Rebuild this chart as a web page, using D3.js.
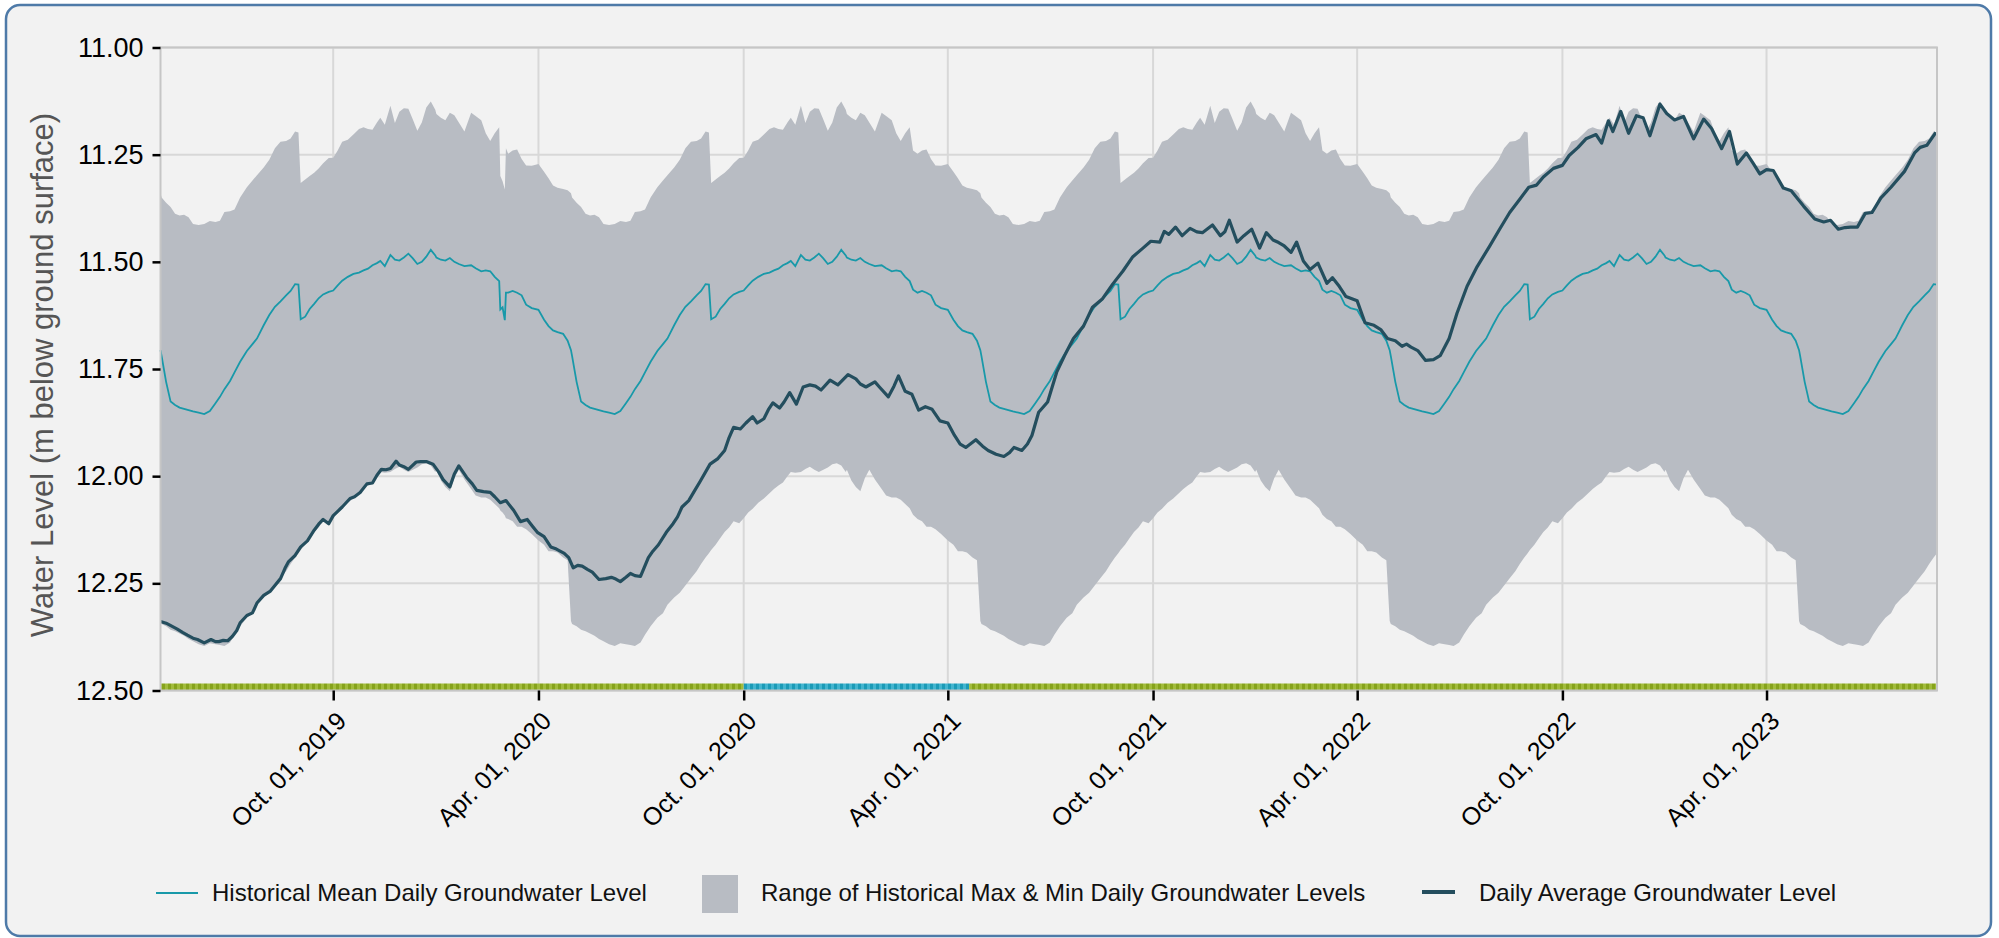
<!DOCTYPE html>
<html>
<head>
<meta charset="utf-8">
<script src="https://cdn.jsdelivr.net/npm/d3@7"></script>
<style>
body { margin: 0; background: #ffffff; }
text { font-family: "Liberation Sans", Arial, sans-serif; }
</style>
</head>
<body>
<script>
// historical daily statistics, keyed by month-day (same every year)
var histDays = ["01-01","01-05","01-09","01-13","01-17","01-21","01-26","02-01","02-05","02-10","02-14","02-18","02-22","02-26",
  "03-01","03-05","03-09","03-13","03-17","03-21","03-26","04-01","04-06","04-10","04-14","04-18","04-23","04-27","04-30",
  "05-01","05-05","05-09","05-13","05-17","05-21","05-25","05-29","06-03","06-08","06-13","06-18","06-22","06-26",
  "07-01","07-05","07-10","07-16","07-21","07-25","07-31","08-05","08-10","08-15","08-20","08-24","08-28","08-31",
  "09-02","09-06","09-10","09-14","09-18","09-22","09-27","10-01","10-05","10-09","10-14","10-19","10-24","10-28",
  "11-01","11-05","11-09","11-12","11-16","11-21","11-25","11-29","12-03","12-07","12-11","12-15","12-19","12-23","12-27","12-31"];
var histMax = [11.155,11.164,11.170,11.152,11.158,11.175,11.196,11.152,11.160,11.170,11.200,11.218,11.200,11.186,
  11.240,11.248,11.240,11.238,11.260,11.275,11.276,11.272,11.290,11.305,11.322,11.327,11.330,11.333,11.340,
  11.350,11.362,11.372,11.388,11.392,11.390,11.396,11.412,11.414,11.412,11.405,11.407,11.404,11.384,
  11.382,11.378,11.350,11.326,11.310,11.298,11.280,11.262,11.235,11.220,11.218,11.212,11.196,11.198,
  11.316,11.308,11.300,11.292,11.282,11.270,11.258,11.257,11.240,11.220,11.215,11.203,11.190,11.186,
  11.190,11.192,11.175,11.164,11.180,11.136,11.176,11.150,11.142,11.143,11.168,11.194,11.175,11.140,11.126,11.145];
var histMean = [11.490,11.495,11.497,11.491,11.500,11.505,11.510,11.508,11.515,11.522,11.520,11.522,11.535,11.545,
  11.565,11.572,11.568,11.572,11.578,11.600,11.608,11.612,11.635,11.650,11.660,11.664,11.668,11.684,11.706,
  11.720,11.780,11.826,11.834,11.840,11.843,11.846,11.849,11.852,11.855,11.848,11.830,11.815,11.797,
  11.778,11.758,11.733,11.708,11.692,11.679,11.648,11.624,11.605,11.592,11.578,11.568,11.552,11.553,
  11.634,11.628,11.610,11.598,11.585,11.576,11.570,11.567,11.555,11.544,11.535,11.528,11.525,11.520,
  11.516,11.508,11.503,11.498,11.510,11.484,11.495,11.497,11.490,11.481,11.492,11.505,11.500,11.488,11.472,11.485];
var histMin = [11.985,12.010,12.025,12.035,12.005,11.985,12.008,12.030,12.045,12.050,12.050,12.055,12.065,12.075,
  12.090,12.100,12.105,12.118,12.118,12.124,12.135,12.150,12.160,12.175,12.175,12.178,12.190,12.196,12.338,
  12.345,12.350,12.358,12.362,12.367,12.372,12.380,12.385,12.392,12.396,12.390,12.392,12.394,12.396,
  12.388,12.370,12.350,12.330,12.320,12.300,12.283,12.272,12.255,12.238,12.222,12.205,12.190,12.180,
  12.172,12.160,12.145,12.130,12.120,12.105,12.110,12.098,12.085,12.076,12.062,12.052,12.040,12.030,
  12.022,12.015,12.000,11.990,11.992,11.990,11.983,11.978,11.985,11.990,11.985,11.980,11.972,11.970,11.975,11.990];

// leap-year days of 2020 (replace the usual values around Feb 29)
var leapDates = ["2020-02-27","2020-02-29","2020-03-02","2020-03-03"];
var leapMax = [11.300,11.312,11.331,11.235];
var leapMean = [11.611,11.606,11.636,11.572];
var leapMin = [12.080,12.085,12.092,12.098];

// daily average groundwater level
var dailyDates = ["2019-04-30","2019-05-05","2019-05-10","2019-05-15","2019-05-20","2019-05-24","2019-05-29","2019-06-02","2019-06-08","2019-06-14",
  "2019-06-18","2019-06-21","2019-06-25","2019-06-29","2019-07-03","2019-07-07","2019-07-10","2019-07-16","2019-07-21","2019-07-25",
  "2019-07-31","2019-08-06","2019-08-10","2019-08-15","2019-08-19","2019-08-22","2019-08-28","2019-09-02","2019-09-08","2019-09-14",
  "2019-09-18","2019-09-22","2019-09-27","2019-10-01","2019-10-05","2019-10-09","2019-10-16","2019-10-20","2019-10-25","2019-10-31",
  "2019-11-05","2019-11-09","2019-11-13","2019-11-17","2019-11-21","2019-11-26","2019-11-29","2019-12-03","2019-12-07","2019-12-14",
  "2019-12-18","2019-12-23","2019-12-29","2020-01-03","2020-01-07","2020-01-13","2020-01-17","2020-01-21","2020-01-28","2020-02-02",
  "2020-02-06","2020-02-12","2020-02-18","2020-02-22","2020-02-27","2020-03-03","2020-03-10","2020-03-16","2020-03-22","2020-03-27",
  "2020-03-31","2020-04-06","2020-04-12","2020-04-17","2020-04-24","2020-04-28","2020-05-02","2020-05-06","2020-05-10","2020-05-15",
  "2020-05-19","2020-05-25","2020-05-31","2020-06-05","2020-06-09","2020-06-13","2020-06-18","2020-06-22","2020-06-26","2020-07-01",
  "2020-07-04","2020-07-08","2020-07-12","2020-07-17","2020-07-24","2020-07-30","2020-08-03","2020-08-07","2020-08-13","2020-08-18",
  "2020-08-23","2020-09-01","2020-09-08","2020-09-14","2020-09-18","2020-09-22","2020-09-28","2020-10-03","2020-10-09","2020-10-13",
  "2020-10-19","2020-10-23","2020-10-27","2020-11-02","2020-11-06","2020-11-11","2020-11-17","2020-11-23","2020-11-29","2020-12-04",
  "2020-12-09","2020-12-17","2020-12-24","2021-01-02","2021-01-09","2021-01-13","2021-01-18","2021-01-26","2021-01-30","2021-02-07",
  "2021-02-12","2021-02-16","2021-02-22","2021-02-28","2021-03-06","2021-03-12","2021-03-18","2021-03-25","2021-04-01","2021-04-07",
  "2021-04-12","2021-04-17","2021-04-26","2021-05-02","2021-05-07","2021-05-14","2021-05-21","2021-05-26","2021-05-30","2021-06-06",
  "2021-06-11","2021-06-15","2021-06-21","2021-06-29","2021-07-07","2021-07-14","2021-07-22","2021-07-31","2021-08-08","2021-08-17",
  "2021-08-26","2021-09-04","2021-09-13","2021-09-22","2021-09-29","2021-10-07","2021-10-11","2021-10-15","2021-10-21","2021-10-27",
  "2021-11-03","2021-11-09","2021-11-14","2021-11-23","2021-11-30","2021-12-04","2021-12-08","2021-12-15","2021-12-21","2021-12-28",
  "2022-01-04","2022-01-10","2022-01-16","2022-01-21","2022-01-26","2022-02-01","2022-02-06","2022-02-12","2022-02-18","2022-02-25",
  "2022-03-05","2022-03-10","2022-03-16","2022-03-22","2022-04-01","2022-04-08","2022-04-16","2022-04-22","2022-04-28","2022-05-05",
  "2022-05-11","2022-05-15","2022-05-19","2022-05-25","2022-06-01","2022-06-08","2022-06-14","2022-06-22","2022-06-29","2022-07-08",
  "2022-07-17","2022-07-28","2022-08-06","2022-08-15","2022-08-24","2022-09-01","2022-09-08","2022-09-14","2022-09-23","2022-10-01",
  "2022-10-07","2022-10-15","2022-10-22","2022-10-31","2022-11-05","2022-11-11","2022-11-15","2022-11-22","2022-11-29","2022-12-06",
  "2022-12-12","2022-12-18","2022-12-27","2023-01-02","2023-01-09","2023-01-17","2023-01-26","2023-02-04","2023-02-11","2023-02-20",
  "2023-02-27","2023-03-06","2023-03-14","2023-03-20","2023-03-26","2023-04-01","2023-04-07","2023-04-16","2023-04-23","2023-05-04",
  "2023-05-14","2023-05-22","2023-05-28","2023-06-04","2023-06-10","2023-06-15","2023-06-21","2023-06-28","2023-07-04","2023-07-12",
  "2023-07-21","2023-08-02","2023-08-11","2023-08-16","2023-08-22","2023-08-30"];
var dailyLevel = [12.339,12.343,12.350,12.357,12.365,12.371,12.378,12.381,12.389,12.381,
  12.386,12.386,12.383,12.384,12.374,12.360,12.342,12.325,12.319,12.296,
  12.278,12.268,12.255,12.239,12.215,12.200,12.185,12.165,12.151,12.126,
  12.112,12.101,12.111,12.092,12.082,12.072,12.052,12.048,12.038,12.018,
  12.016,11.998,11.984,11.985,11.982,11.965,11.974,11.978,11.984,11.967,
  11.966,11.966,11.972,11.990,12.008,12.025,11.995,11.976,12.003,12.018,
  12.033,12.036,12.038,12.048,12.062,12.057,12.080,12.106,12.101,12.118,
  12.131,12.141,12.165,12.170,12.180,12.190,12.214,12.208,12.210,12.218,
  12.224,12.241,12.239,12.236,12.240,12.246,12.236,12.227,12.232,12.234,
  12.215,12.190,12.175,12.160,12.131,12.111,12.095,12.072,12.057,12.035,
  12.013,11.972,11.959,11.940,11.910,11.886,11.890,11.876,11.861,11.876,
  11.866,11.845,11.829,11.841,11.827,11.805,11.832,11.792,11.787,11.790,
  11.799,11.776,11.787,11.763,11.773,11.785,11.792,11.780,11.792,11.815,
  11.790,11.766,11.802,11.809,11.846,11.838,11.844,11.871,11.876,11.905,
  11.925,11.933,11.915,11.930,11.940,11.949,11.954,11.945,11.933,11.940,
  11.925,11.905,11.851,11.827,11.758,11.719,11.679,11.650,11.606,11.586,
  11.552,11.522,11.488,11.468,11.452,11.454,11.429,11.436,11.419,11.439,
  11.422,11.430,11.432,11.414,11.439,11.430,11.403,11.454,11.439,11.424,
  11.468,11.432,11.449,11.455,11.463,11.478,11.454,11.498,11.518,11.503,
  11.550,11.537,11.557,11.581,11.591,11.642,11.648,11.658,11.679,11.684,
  11.697,11.692,11.699,11.707,11.730,11.728,11.719,11.679,11.620,11.557,
  11.511,11.464,11.424,11.385,11.354,11.326,11.321,11.302,11.282,11.275,
  11.252,11.233,11.213,11.203,11.223,11.171,11.196,11.149,11.200,11.159,
  11.164,11.206,11.132,11.154,11.169,11.161,11.213,11.167,11.189,11.236,
  11.196,11.272,11.246,11.270,11.295,11.285,11.287,11.328,11.334,11.370,
  11.400,11.407,11.403,11.424,11.420,11.419,11.419,11.387,11.385,11.351,
  11.326,11.289,11.246,11.233,11.228,11.198];

// data grade strip along the bottom
var gradeStart = ["2019-04-30","2020-10-01","2021-04-20"];
var gradeEnd = ["2020-10-01","2021-04-20","2023-08-31"];
var gradeCode = ["a","b","a"];

var yTicks = [11.00, 11.25, 11.50, 11.75, 12.00, 12.25, 12.50];
var xTicks = ["2019-10-01","2020-04-01","2020-10-01","2021-04-01","2021-10-01","2022-04-01","2022-10-01","2023-04-01"];

var legendLabels = ["Historical Mean Daily Groundwater Level",
  "Range of Historical Max & Min Daily Groundwater Levels",
  "Daily Average Groundwater Level"];

var width = 1999, height = 938;
var plot = {left: 160.5, right: 1937, top: 47.5, bottom: 690.5};
var parseDate = d3.timeParse("%Y-%m-%d");
var startDate = parseDate("2019-04-30"), endDate = parseDate("2023-08-31");

var colors = {band: "#b8bcc3", mean: "#1899a9", daily: "#244e5e", grid: "#d8d8d8", border: "#c6c6c6"};

// build the historical series for every year in range
var hist = [];
[2019, 2020, 2021, 2022, 2023].forEach(function(yr){
  histDays.forEach(function(md, i){
    var d = parseDate(yr + "-" + md);
    if (d < startDate || d > endDate) return;
    if (yr === 2020 && md >= "02-27" && md <= "03-03") return;
    hist.push({date: d, max: histMax[i], mean: histMean[i], min: histMin[i]});
  });
});
leapDates.forEach(function(s, i){
  hist.push({date: parseDate(s), max: leapMax[i], mean: leapMean[i], min: leapMin[i]});
});
hist.sort(function(a, b){ return a.date - b.date; });

var daily = dailyDates.map(function(s, i){ return {date: parseDate(s), value: dailyLevel[i]}; });

var svg = d3.select("body").append("svg")
  .attr("width", width).attr("height", height);

svg.append("rect")
  .attr("x", 6).attr("y", 5).attr("width", 1985).attr("height", 931)
  .attr("rx", 14).attr("ry", 14)
  .style("fill", "#f2f2f2").style("stroke", "#4e7aa8").style("stroke-width", 2.5);

var x = d3.scaleTime().domain([startDate, endDate]).range([plot.left, plot.right]);
var y = d3.scaleLinear().domain([11, 12.5]).range([plot.top, plot.bottom]);

// patterns for the grade strip
var defs = svg.append("defs");
var patterns = {a: ["#86a31b", "#a2bc3c"], b: ["#1b9bb7", "#43b5cf"]};
Object.keys(patterns).forEach(function(k){
  var p = defs.append("pattern").attr("id", "grade-" + k)
    .attr("patternUnits", "userSpaceOnUse").attr("width", 6).attr("height", 8);
  p.append("rect").attr("width", 3).attr("height", 8).style("fill", patterns[k][0]);
  p.append("rect").attr("x", 3).attr("width", 3).attr("height", 8).style("fill", patterns[k][1]);
});

// grid
var grid = svg.append("g").attr("class", "grid");
grid.selectAll(".hgrid").data(yTicks).enter().append("line")
  .attr("x1", plot.left).attr("x2", plot.right)
  .attr("y1", function(d){ return y(d); }).attr("y2", function(d){ return y(d); })
  .style("stroke", colors.grid).style("stroke-width", 2);
grid.selectAll(".vgrid").data(xTicks).enter().append("line")
  .attr("x1", function(d){ return x(parseDate(d)); }).attr("x2", function(d){ return x(parseDate(d)); })
  .attr("y1", plot.top).attr("y2", plot.bottom)
  .style("stroke", colors.grid).style("stroke-width", 2);

// range band
var area = d3.area()
  .x(function(d){ return x(d.date); })
  .y0(function(d){ return y(d.min); })
  .y1(function(d){ return y(d.max); });
svg.append("path").datum(hist).attr("d", area).style("fill", colors.band);

var meanLine = d3.line().x(function(d){ return x(d.date); }).y(function(d){ return y(d.mean); });
svg.append("path").datum(hist).attr("d", meanLine)
  .style("fill", "none").style("stroke", colors.mean).style("stroke-width", 1.8);

var dailyLine = d3.line().x(function(d){ return x(d.date); }).y(function(d){ return y(d.value); });
svg.append("path").datum(daily).attr("d", dailyLine)
  .style("fill", "none").style("stroke", colors.daily).style("stroke-width", 3.2)
  .style("stroke-linejoin", "round");

// grade strip
svg.selectAll(".grade").data(gradeStart).enter().append("rect")
  .attr("x", function(d){ return x(parseDate(d)); })
  .attr("width", function(d, i){ return x(parseDate(gradeEnd[i])) - x(parseDate(d)); })
  .attr("y", plot.bottom - 7).attr("height", 7)
  .style("fill", function(d, i){ return "url(#grade-" + gradeCode[i] + ")"; });

// plot border
svg.append("rect")
  .attr("x", plot.left).attr("y", plot.top)
  .attr("width", plot.right - plot.left).attr("height", plot.bottom - plot.top)
  .style("fill", "none").style("stroke", colors.border).style("stroke-width", 2);

// axes
var yaxis = d3.axisLeft(y).tickValues(yTicks).tickFormat(d3.format(".2f")).tickSize(8).tickPadding(9);
var gy = svg.append("g").attr("transform", "translate(" + plot.left + ",0)").call(yaxis);
gy.select(".domain").remove();
gy.selectAll(".tick line").style("stroke", "#000").style("stroke-width", 2.5);
gy.selectAll(".tick text").style("font-size", "27px").style("fill", "#000");

var xaxis = d3.axisBottom(x).tickValues(xTicks.map(parseDate)).tickFormat(d3.timeFormat("%b. %d, %Y")).tickSize(10);
var gx = svg.append("g").attr("transform", "translate(0," + plot.bottom + ")").call(xaxis);
gx.select(".domain").remove();
gx.selectAll(".tick line").style("stroke", "#000").style("stroke-width", 2.5);
gx.selectAll(".tick text")
  .style("font-size", "25px").style("fill", "#000").style("text-anchor", "end")
  .attr("x", 0).attr("y", 0).attr("dy", 0)
  .attr("transform", "translate(14,32) rotate(-45)");

svg.append("text")
  .attr("transform", "translate(42," + ((plot.top + plot.bottom) / 2 + 6) + ") rotate(-90)")
  .style("text-anchor", "middle").style("dominant-baseline", "central")
  .style("font-size", "31px").style("fill", "#555")
  .text("Water Level (m below ground surface)");

// legend
var legend = svg.append("g").attr("class", "legend");
legend.append("line").attr("x1", 156).attr("x2", 198).attr("y1", 893).attr("y2", 893)
  .style("stroke", colors.mean).style("stroke-width", 2);
legend.append("rect").attr("x", 702).attr("y", 875).attr("width", 36).attr("height", 38)
  .style("fill", colors.band);
legend.append("line").attr("x1", 1422).attr("x2", 1455).attr("y1", 892).attr("y2", 892)
  .style("stroke", colors.daily).style("stroke-width", 4);
legend.selectAll(".legtext").data(legendLabels).enter().append("text")
  .attr("x", function(d, i){ return [212, 761, 1479][i]; })
  .attr("y", 893).attr("dy", "0.35em")
  .style("font-size", "24px").style("fill", "#111")
  .text(function(d){ return d; });
</script>
</body>
</html>
